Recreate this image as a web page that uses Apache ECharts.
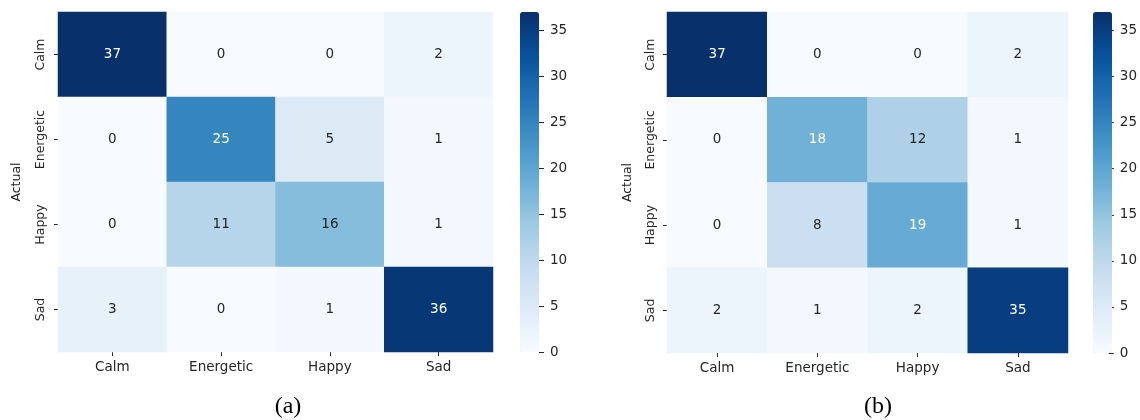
<!DOCTYPE html>
<html>
<head>
<meta charset="utf-8">
<script src="https://cdn.jsdelivr.net/npm/echarts@6/dist/echarts.min.js"></script>
<style>
html,body{margin:0;padding:0;background:#fff;}
#chart{width:1140px;height:420px;}
</style>
</head>
<body>
<div id="chart"></div>
<script>
const categories = ['Calm', 'Energetic', 'Happy', 'Sad'];
const matrixA = [
  [37, 0, 0, 2],
  [0, 25, 5, 1],
  [0, 11, 16, 1],
  [3, 0, 1, 36]
];
const matrixB = [
  [37, 0, 0, 2],
  [0, 18, 12, 1],
  [0, 8, 19, 1],
  [2, 1, 2, 35]
];
const colorbarTicks = [0, 5, 10, 15, 20, 25, 30, 35];
const colorMin = 0;
const colorMax = 37;
const panelLabels = ['(a)', '(b)'];
const blues = ['#f7fbff','#deebf7','#c6dbef','#9ecae1','#6baed6','#4292c6','#2171b5','#08519c','#08306b'];

const FONT = 'DejaVu Sans';
const TXT = '#262626';

function toData(m) {
  const out = [];
  m.forEach((row, yi) => row.forEach((v, xi) => out.push([xi, yi, v])));
  return out;
}

const panels = [
  {grid: {left: 58, top: 12, width: 435, height: 340}, cb: {left: 520, top: 12, width: 19, height: 340}, mat: matrixA, labelX: 283, yMargin: 11, nameGap: 35},
  {grid: {left: 667, top: 12, width: 401, height: 341}, cb: {left: 1093, top: 12, width: 19, height: 341}, mat: matrixB, labelX: 873, yMargin: 10, nameGap: 33}
];

const option = {
  animation: false,
  backgroundColor: '#fff',
  textStyle: {fontFamily: FONT},
  title: panels.map((p, i) => ({
    text: panelLabels[i],
    left: p.labelX,
    top: 390,
    textAlign: 'center',
    textStyle: {fontFamily: 'Liberation Serif', fontSize: 24, fontWeight: 'normal', color: '#000'}
  })),
  grid: [],
  xAxis: [],
  yAxis: [],
  visualMap: [],
  series: []
};

panels.forEach((p, i) => {
  const gi = option.grid.length;
  option.grid.push(Object.assign({containLabel: false}, p.grid));
  option.xAxis.push({
    type: 'category', gridIndex: gi, data: categories,
    axisLine: {show: false}, splitArea: {show: false},
    axisTick: {show: true, alignWithLabel: true, length: 4, lineStyle: {color: TXT, width: 1}},
    axisLabel: {color: TXT, fontSize: 13.5, fontFamily: FONT, margin: 8}
  });
  option.yAxis.push({
    type: 'category', gridIndex: gi, data: categories, inverse: true,
    name: 'Actual', nameLocation: 'middle', nameGap: p.nameGap, nameRotate: 90,
    nameTextStyle: {color: TXT, fontSize: 12.5, fontFamily: FONT},
    axisLine: {show: false},
    axisTick: {show: true, alignWithLabel: true, length: 4, lineStyle: {color: TXT, width: 1}},
    axisLabel: {color: TXT, fontSize: 12.5, fontFamily: FONT, rotate: 90, margin: p.yMargin}
  });
  // colorbar axis grid
  const ci = option.grid.length;
  option.grid.push(Object.assign({containLabel: false}, p.cb));
  option.xAxis.push({type: 'category', gridIndex: ci, show: false, data: ['']});
  option.yAxis.push({
    type: 'value', gridIndex: ci, position: 'right', min: colorMin, max: colorMax,
    splitLine: {show: false}, axisLine: {show: false, onZero: false},
    axisTick: {show: true, inside: false, length: 5, customValues: colorbarTicks, lineStyle: {color: TXT, width: 1}},
    axisLabel: {color: TXT, fontSize: 13.5, fontFamily: FONT, margin: 11, customValues: colorbarTicks}
  });
  option.visualMap.push({
    type: 'continuous', seriesIndex: i, min: colorMin, max: colorMax,
    calculable: false, realtime: false, hoverLink: false,
    left: p.cb.left, top: p.cb.top, itemWidth: p.cb.width, itemHeight: p.cb.height,
    padding: 0, orient: 'vertical',
    inRange: {color: blues}
  });
  option.series.push({
    type: 'heatmap', xAxisIndex: gi, yAxisIndex: gi,
    data: toData(p.mat),
    itemStyle: {borderWidth: 0},
    emphasis: {disabled: true},
    label: {
      show: true, fontSize: 13.5, fontFamily: FONT,
      formatter: d => String(d.value[2]),
      color: TXT
    }
  });
});

// per-cell label colour (white on dark cells, as seaborn does)
option.series.forEach(s => {
  s.data = s.data.map(d => ({value: d, label: {color: d[2] >= 17 ? '#ffffff' : TXT}}));
});

const chart = echarts.init(document.getElementById('chart'), null, {renderer: 'canvas'});
chart.setOption(option);
</script>
</body>
</html>
